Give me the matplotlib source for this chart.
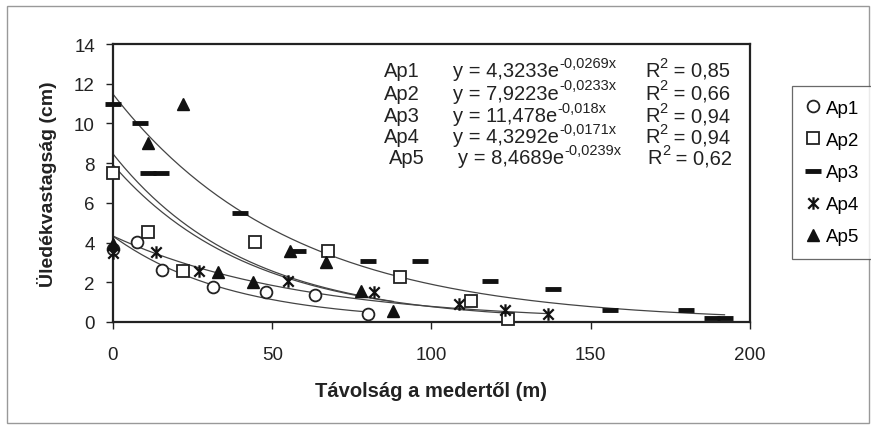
import numpy as np
import matplotlib
matplotlib.use("Agg")
import matplotlib.pyplot as plt
from matplotlib.path import Path

plt.rcParams["font.family"] = ["Liberation Sans", "DejaVu Sans"]

# measured points (distance m, thickness cm)
ap1_x = [0, 7.5, 15.5, 31.5, 48, 63.5, 80]
ap1_y = [3.7, 4.05, 2.6, 1.75, 1.5, 1.35, 0.4]
ap2_x = [0, 11, 22, 44.5, 67.5, 90, 112.5, 124]
ap2_y = [7.5, 4.55, 2.55, 4.05, 3.6, 2.25, 1.05, 0.15]
ap3_x = [0, 8.5, 11, 15, 40, 58, 80, 96.5, 118.5, 138, 156, 180, 188, 192]
ap3_y = [11.0, 10.0, 7.5, 7.5, 5.5, 3.6, 3.05, 3.05, 2.05, 1.65, 0.6, 0.6, 0.2, 0.2]
ap4_x = [0, 13.5, 27, 55, 82, 108.5, 123, 136.5]
ap4_y = [3.45, 3.5, 2.55, 2.05, 1.5, 0.9, 0.6, 0.4]
ap5_x = [0, 11, 22, 33, 44, 55.5, 67, 78, 88]
ap5_y = [3.95, 9.0, 11.0, 2.5, 2.0, 3.55, 3.0, 1.55, 0.55]

names = ["Ap1", "Ap2", "Ap3", "Ap4", "Ap5"]
coef_a = [4.3233, 7.9223, 11.478, 4.3292, 8.4689]
coef_b = [-0.0269, -0.0233, -0.018, -0.0171, -0.0239]
coef_a_txt = ["4,3233", "7,9223", "11,478", "4,3292", "8,4689"]
coef_b_txt = ["-0,0269", "-0,0233", "-0,018", "-0,0171", "-0,0239"]
r2_txt = ["0,85", "0,66", "0,94", "0,94", "0,62"]

xs = [ap1_x, ap2_x, ap3_x, ap4_x, ap5_x]
ys = [ap1_y, ap2_y, ap3_y, ap4_y, ap5_y]

# Excel style star: X plus vertical bar
star = Path([(-1, -1), (1, 1), (-1, 1), (1, -1), (0, -1.2), (0, 1.2)],
            [Path.MOVETO, Path.LINETO, Path.MOVETO, Path.LINETO, Path.MOVETO, Path.LINETO])

styles = [
    dict(marker="o", ms=8.5, mfc="white", mec="#222", mew=1.3),
    dict(marker="s", ms=9, mfc="white", mec="#222", mew=1.3),
    dict(marker="_", ms=11.5, mfc="#111", mec="#111", mew=3.5),
    dict(marker=star, ms=9, mfc="#111", mec="#111", mew=1.6),
    dict(marker="^", ms=9, mfc="#111", mec="#111", mew=1.0),
]

fig = plt.figure(figsize=(8.71, 4.27), dpi=100)
fig.patches.append(plt.Rectangle((0.008, 0.008), 0.99, 0.976, transform=fig.transFigure,
                                 fill=False, ec="#999", lw=1.0))
ax = fig.add_axes([0.1297, 0.2436, 0.7314, 0.651])

for i in range(5):
    x0 = np.array(xs[i], dtype=float)
    t = np.linspace(0, x0.max(), 200)
    ax.plot(t, coef_a[i] * np.exp(coef_b[i] * t), color="#444", lw=0.9, zorder=2)
for i in range(5):
    ax.plot(xs[i], ys[i], ls="none", label=names[i], zorder=3, clip_on=False, **styles[i])

ax.set_xlim(0, 200)
ax.set_ylim(0, 14)
ax.set_xticks([0, 50, 100, 150, 200])
ax.set_yticks(range(0, 15, 2))
ax.tick_params(labelsize=13.5, colors="#222", length=5, width=1.0, pad=8)
ax.tick_params(axis="x", pad=12)
for s in ax.spines.values():
    s.set_linewidth(1.6)
    s.set_color("#222")

ax.set_xlabel("Távolság a medertől (m)", fontsize=14.5, fontweight="bold", color="#222", labelpad=13)
ax.set_ylabel("Üledékvastagság (cm)", fontsize=14, fontweight="bold", color="#222", labelpad=12)

# trendline equations
row_y = [0.905, 0.823, 0.742, 0.666, 0.590]
for i in range(5):
    xo = 0.008 if i == 4 else 0.0
    ax.text(0.425 + xo, row_y[i], names[i], transform=ax.transAxes, fontsize=14.5,
            color="#222", va="center")
    eq = ax.text(0.534 + xo, row_y[i], f"y = {coef_a_txt[i]}e", transform=ax.transAxes,
                 fontsize=14.5, color="#222", va="center")
    ax.annotate(f"{coef_b_txt[i]}x", xy=(1, 0.7), xycoords=eq, fontsize=10.5,
                color="#222", va="baseline", ha="left")
    r = ax.text(0.835 + xo * 0.5, row_y[i], "R", transform=ax.transAxes,
                fontsize=14.5, color="#222", va="center")
    sq = ax.annotate("2", xy=(1, 0.7), xycoords=r, fontsize=10.5, color="#222",
                     va="baseline", ha="left")
    ax.annotate(" = " + r2_txt[i], xy=(1, 0), xycoords=(sq, r), fontsize=14.5,
                color="#222", va="bottom", ha="left")

leg = fig.legend(loc="upper left", bbox_to_anchor=(0.909, 0.797), fontsize=13.5,
                 frameon=True, fancybox=False, edgecolor="#444", handlelength=0.8,
                 handletextpad=0.3, labelspacing=0.8, borderpad=0.75, borderaxespad=0)
leg.get_frame().set_linewidth(0.9)

fig.savefig("out.png", dpi=100)
